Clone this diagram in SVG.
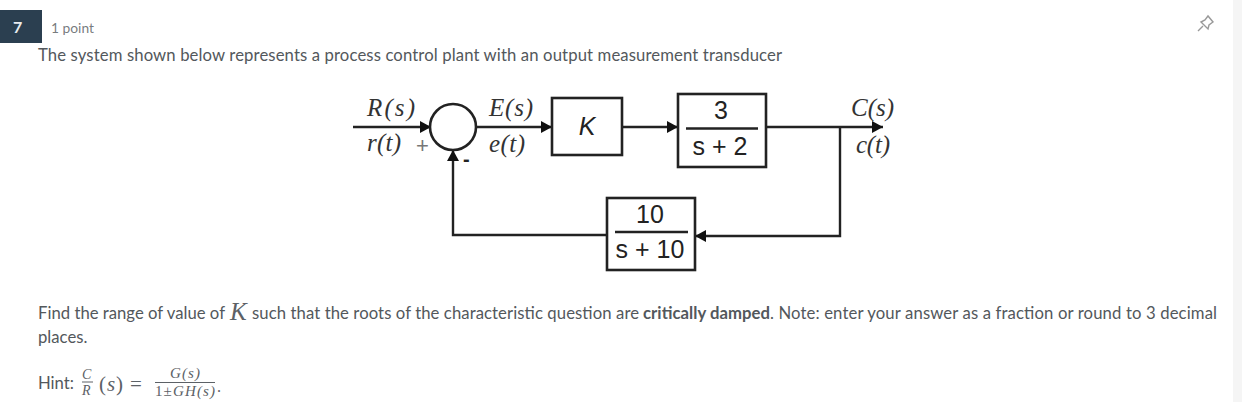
<svg xmlns="http://www.w3.org/2000/svg" width="1242" height="402" viewBox="0 0 1242 402">
<style>
.ui{font-family:Lato,"Open Sans",sans-serif;fill:#53585c;font-size:16.7px}
.m{font-family:"Liberation Serif",serif;font-size:25px;font-style:italic;fill:#333}
.a{font-family:"Liberation Sans",Arial,sans-serif;fill:#222;text-anchor:middle;font-size:25px}
.b{fill:#fff;stroke:#222;stroke-width:2.6}
.l{fill:none;stroke:#222;stroke-width:2.4}
.k{font-family:"Liberation Serif",serif;fill:#5c6166}
</style>
<defs><marker id="ah" markerUnits="userSpaceOnUse" markerWidth="12" markerHeight="12" refX="11" refY="6" orient="auto"><path d="M0 0L11 6L0 12Z" fill="#111"/></marker></defs>
<rect width="1242" height="402" fill="#fff"/>
<rect x="1233" width="9" height="402" fill="#f5f5f5"/>
<g id="question-header">
<rect x="0" y="10" width="42" height="33" fill="#2b3f50"/>
<text x="13" y="33" font-family="Lato,sans-serif" font-size="16" font-weight="700" fill="#e8ecef">7</text>
<text class="ui" x="51" y="33" style="font-size:13.8px" fill-opacity=".8">1 point</text>
<g id="pin" fill="none" stroke="#999" stroke-width="1.4"><path d="M1198 31L1203 26M1201 22L1208 29L1209 25L1213 22L1208 16L1205 20Z"/></g>
<text class="ui" x="38" y="61" textLength="744">The system shown below represents a process control plant with an output measurement transducer</text>
</g>
<g id="connectors">
<path class="l" d="M353 127H431" marker-end="url(#ah)"/>
<path class="l" d="M476 127H552" marker-end="url(#ah)"/>
<path class="l" d="M622 127H678" marker-end="url(#ah)"/>
<path class="l" d="M766 127H883" marker-end="url(#ah)"/>
<path class="l" d="M840 127V236H695" marker-end="url(#ah)"/>
<path class="l" d="M607 235H453V150" marker-end="url(#ah)"/>
</g>
<g id="summing-junction"><circle class="b" cx="453" cy="127" r="23"/>
<text x="416" y="153" font-family="Liberation Sans,sans-serif" font-size="22" fill="#777">+</text>
<text x="463" y="166" font-family="Liberation Sans,sans-serif" font-size="20" font-weight="700" fill="#222">-</text></g>
<g id="labels-input"><text class="m" x="367" y="116" textLength="48">R(s)</text><text class="m" x="367" y="151" textLength="34">r(t)</text></g>
<g id="labels-error"><text class="m" x="489" y="116" textLength="44">E(s)</text><text class="m" x="489" y="152" textLength="36">e(t)</text></g>
<g id="labels-output"><text class="m" x="851" y="116" textLength="43">C(s)</text><text class="m" x="856" y="153" textLength="34">c(t)</text></g>
<g id="gain-k"><rect class="b" x="552" y="98" width="70" height="57"/><text class="a" x="587" y="135" font-style="italic">K</text></g>
<g id="plant"><rect class="b" x="678" y="94" width="88" height="73"/><path class="l" d="M686 128.500H758" stroke-width="3"/><text class="a" x="721" y="119">3</text><text class="a" x="720" y="155">s + 2</text></g>
<g id="transducer"><rect class="b" x="607" y="198" width="88" height="72"/><path class="l" d="M615 232H688"/><text class="a" x="650" y="223">10</text><text class="a" x="650" y="258">s + 10</text></g>
<g id="question-text">
<text class="ui" x="38" y="319" textLength="187">Find the range of value of</text>
<text x="230" y="320" font-family="Liberation Serif,serif" font-style="italic" font-size="25" fill="#5c6166">K</text>
<text class="ui" x="252" y="319" textLength="387">such that the roots of the characteristic question are</text>
<text class="ui" x="643" y="319" font-weight="700" textLength="127">critically damped</text>
<text class="ui" x="770" y="319" textLength="447">. Note: enter your answer as a fraction or round to 3 decimal</text>
<text class="ui" x="38" y="343">places.</text>
<text class="ui" x="38" y="389">Hint:</text>
<text class="k" x="82" y="379" font-size="14" font-style="italic">C</text><path d="M82 382H93" stroke="#5c6166"/><text class="k" x="82" y="395" font-size="14" font-style="italic">R</text>
<text class="k" x="99" y="391" font-size="21" textLength="24">(<tspan font-style="italic">s</tspan>)</text>
<text class="k" x="130" y="391" font-size="21">=</text>
<text class="k" x="170" y="378" font-size="15" font-style="italic" textLength="30">G(s)</text><path d="M155 382.500H215" stroke="#5c6166"/><text class="k" x="155" y="396" font-size="15" textLength="60">1±<tspan font-style="italic">GH(s)</tspan></text>
<text class="k" x="217" y="392" font-size="16">.</text>
</g>
</svg>
